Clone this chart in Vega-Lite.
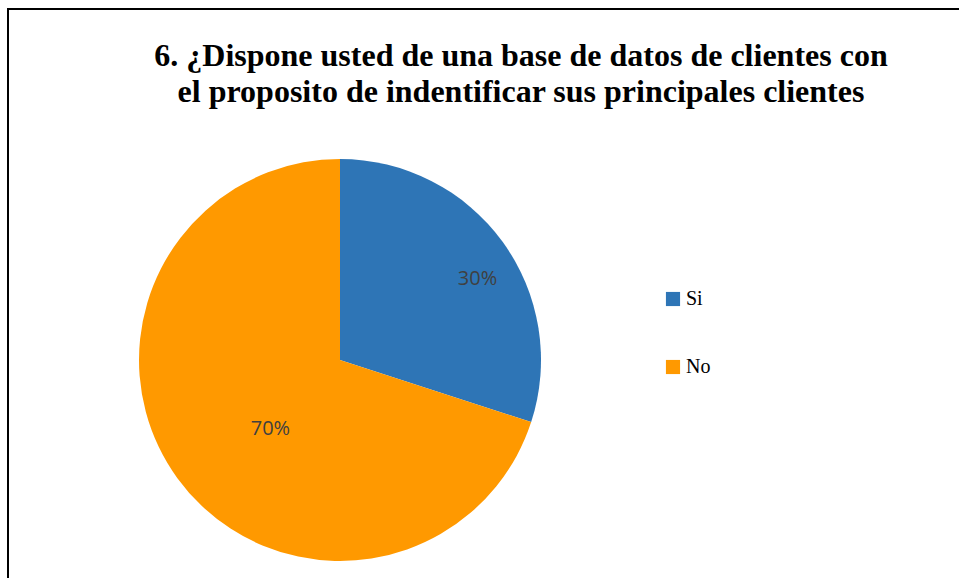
{
  "$schema": "https://vega.github.io/schema/vega-lite/v6.json",
  "autosize": {"type": "none"},
  "padding": {"left": 8, "top": 9, "right": 0, "bottom": 0},
  "width": 1026,
  "height": 620,
  "background": "white",
  "view": {"stroke": "black", "strokeWidth": 2},
  "title": {
    "text": ["6. ¿Dispone usted de una base de datos de clientes con", "el proposito de indentificar sus principales clientes"],
    "font": "Liberation Serif",
    "fontSize": 32,
    "fontWeight": "bold",
    "color": "black",
    "lineHeight": 36,
    "anchor": "middle",
    "orient": "top",
    "baseline": "top",
    "offset": 0,
    "dy": 100
  },
  "config": {
    "view": {"stroke": "black", "strokeWidth": 2}
  },
  "data": {
    "values": [
      {"respuesta": "Si", "valor": 0.3, "orden": 1},
      {"respuesta": "No", "valor": 0.7, "orden": 2}
    ]
  },
  "encoding": {
    "theta": {"field": "valor", "type": "quantitative", "stack": true},
    "order": {"field": "orden", "type": "quantitative"},
    "color": {
      "field": "respuesta",
      "type": "nominal",
      "sort": ["Si", "No"],
      "scale": {"domain": ["Si", "No"], "range": ["#2E75B6", "#FF9900"]},
      "legend": {
        "title": null,
        "orient": "none",
        "legendX": 655,
        "legendY": 280,
        "symbolType": "square",
        "symbolSize": 200,
        "symbolStrokeWidth": 0,
        "symbolOffset": 0,
        "labelFont": "Liberation Serif",
        "labelFontSize": 20,
        "labelColor": "black",
        "labelOffset": 3,
        "rowPadding": 48
      }
    }
  },
  "layer": [
    {
      "mark": {"type": "arc", "x": 332, "y": 351, "outerRadius": 201}
    },
    {
      "mark": {"type": "text", "x": 332, "y": 351, "radius": 128, "dx": 34, "dy": -6, "font": "Open Sans", "fontSize": 20},
      "encoding": {
        "text": {"field": "valor", "type": "quantitative", "format": ".0%"},
        "color": {"value": "#404040"}
      }
    }
  ]
}
